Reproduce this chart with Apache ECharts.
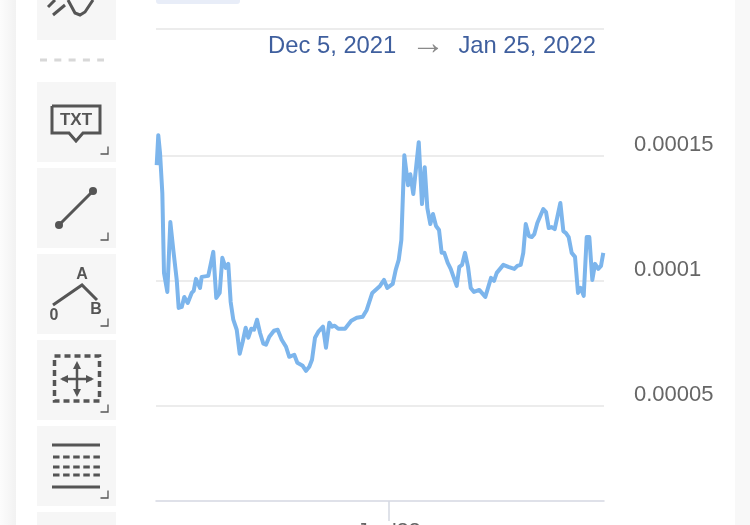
<!DOCTYPE html>
<html>
<head>
<meta charset="utf-8">
<style>html,body{margin:0;padding:0;background:#fff;overflow:hidden}#c{width:750px;height:525px}</style>
<script src="https://cdn.jsdelivr.net/npm/echarts@6/dist/echarts.min.js"></script>
</head>
<body>
<div id="c"></div>
<script>
const rangeText = ['Dec 5, 2021', '\u2192', 'Jan 25, 2022'];
const yTicks = [0.00005, 0.0001, 0.00015];
const yGridValues = [0.00005, 0.0001, 0.00015, 0.0002006];
const yLabels = ['0.00005', '0.0001', '0.00015'];
const xTickLabel = "Jan'22";
const startDay = Date.UTC(2021, 11, 5);
const dayMs = 86400000;
const daysSinceDec5 = [0.58,0.76,0.96,1.22,1.41,1.79,2.13,2.47,2.86,3.08,3.43,3.72,4.11,4.56,4.79,5.05,5.51,5.70,6.45,7.02,7.36,7.75,8.05,8.43,8.73,9.00,9.30,9.69,10.03,10.37,10.71,11.01,11.35,11.66,12.00,12.34,12.72,13.02,13.40,13.93,14.35,14.81,15.30,15.67,16.24,16.59,17.20,17.58,17.95,18.26,18.60,18.98,19.51,19.85,20.23,20.54,20.84,21.25,22.02,22.73,23.35,24.03,24.49,25.12,26.00,26.46,26.83,27.45,27.79,28.13,28.43,28.77,29.19,29.45,29.79,30.41,30.78,31.09,31.39,31.73,32.03,32.38,32.72,33.02,33.32,33.71,34.05,34.73,35.03,35.34,35.68,36.02,36.33,36.70,37.30,37.99,38.64,38.98,39.29,40.04,40.61,41.29,41.63,42.02,42.31,42.59,42.96,43.27,43.57,43.91,44.59,44.90,45.21,45.55,45.89,46.53,46.87,47.17,47.48,47.82,48.20,48.54,48.85,49.19,49.53,49.83,50.17,50.48,50.85,51.16,51.42];
const prices = [0.0001462,0.0001582,0.000151,0.0001351,0.0001032,0.0000956,0.0001235,0.0001124,0.0001004,0.0000892,0.0000896,0.0000936,0.0000912,0.0000952,0.000096,0.0001008,0.0000972,0.0001016,0.000102,0.0001116,0.0000932,0.0000952,0.0001092,0.0001052,0.0001068,0.0000916,0.0000845,0.0000805,0.0000709,0.0000757,0.0000813,0.0000773,0.0000809,0.0000805,0.0000845,0.0000793,0.0000749,0.0000745,0.0000777,0.0000801,0.0000805,0.0000765,0.0000737,0.0000697,0.0000705,0.0000673,0.0000661,0.0000641,0.0000657,0.0000685,0.0000773,0.0000797,0.0000817,0.0000733,0.0000833,0.0000817,0.0000821,0.0000809,0.0000809,0.0000841,0.0000853,0.0000857,0.0000884,0.0000952,0.000098,0.0001004,0.0000972,0.0000988,0.0001044,0.0001084,0.0001163,0.0001502,0.0001382,0.0001426,0.0001347,0.0001554,0.0001307,0.0001454,0.0001291,0.0001227,0.0001267,0.0001219,0.0001203,0.0001112,0.0001112,0.0001072,0.0001048,0.000098,0.0001056,0.0001064,0.0001112,0.0001056,0.0000972,0.0000956,0.0000964,0.0000936,0.0001012,0.0001,0.0001032,0.0001064,0.0001056,0.0001048,0.000106,0.0001064,0.0001112,0.0001227,0.0001179,0.0001175,0.0001187,0.0001231,0.0001287,0.0001275,0.0001211,0.0001215,0.0001207,0.0001311,0.0001199,0.0001191,0.0001175,0.0001112,0.0001096,0.0000952,0.0000972,0.000094,0.0001175,0.0001175,0.0001004,0.0001068,0.0001048,0.000106,0.0001112];
const series = daysSinceDec5.map((d, i) => [startDay + d * dayMs, prices[i]]);

const box = (x, y, h) => ({type:'rect', shape:{x:x, y:y, width:79, height:h}, style:{fill:'#f6f6f6'}, silent:true});
const ink = '#555';
const seg = (pts, w, dash) => ({type:'polyline', shape:{points:pts}, style:{stroke:ink, lineWidth:w||2, fill:null, lineDash:dash||null}, silent:true});
const corner = (x, y) => ({type:'polyline', shape:{points:[[x-7.5,y],[x,y],[x,y-7.5]]}, style:{stroke:'#555', lineWidth:1.3, fill:null}, silent:true});
const lbl = (t, x, y, s) => ({type:'text', x:x, y:y, style:{text:t, fill:ink, font:'bold '+s+'px "Liberation Sans"', align:'center', verticalAlign:'middle'}, silent:true});

const graphics = [
  {type:'rect', shape:{x:0,y:0,width:16,height:525}, style:{fill:{type:'linear',x:0,y:0,x2:1,y2:0,colorStops:[{offset:0,color:'#fcfcfc'},{offset:1,color:'#f2f2f2'}]}}, silent:true},
  {type:'rect', shape:{x:735,y:0,width:15,height:525}, style:{fill:'#f8f8f8'}, silent:true},
  box(37,-40,80), box(37,82,80), box(37,168,80), box(37,254,80), box(37,340,80), box(37,426,80), box(37,512,40),
  seg([[48,7],[55,0]],3), seg([[53,15],[65,5]],3), seg([[68,0],[75,13],[80,15],[85,12],[93,0]],3),
  {type:'line', shape:{x1:40,y1:60,x2:104,y2:60}, style:{stroke:'#d8d8d8',lineWidth:3,lineDash:[7,7.3]}, silent:true},
  seg([[52,106],[100,106],[100,133],[83,133],[76,141],[69,133],[52,133],[52,106]],3),
  lbl('TXT',76,120,17),
  seg([[59,225],[93,191]],3),
  {type:'circle', shape:{cx:59,cy:225,r:4}, style:{fill:ink}, silent:true},
  {type:'circle', shape:{cx:93,cy:191,r:4}, style:{fill:ink}, silent:true},
  lbl('A',82,275,16), lbl('0',54,316,16), lbl('B',96,310,16),
  seg([[53,305],[82,285],[97,300]],3),
  {type:'rect', shape:{x:54.5,y:356,width:45,height:45}, style:{stroke:ink,lineWidth:3.5,lineDash:[6,4],fill:null}, silent:true},
  seg([[77,364],[77,394]],2.5), seg([[62,379],[92,379]],2.5),
  {type:'polygon', shape:{points:[[77,361],[73,369],[81,369]]}, style:{fill:ink}, silent:true},
  {type:'polygon', shape:{points:[[77,397],[73,389],[81,389]]}, style:{fill:ink}, silent:true},
  {type:'polygon', shape:{points:[[60,379],[68,375],[68,383]]}, style:{fill:ink}, silent:true},
  {type:'polygon', shape:{points:[[94,379],[86,375],[86,383]]}, style:{fill:ink}, silent:true},
  seg([[52,445],[100,445]],3), seg([[52,487],[100,487]],3),
  seg([[53,457],[100,457]],3,[6.5,3.6]), seg([[53,467],[100,467]],3,[6.5,3.6]), seg([[53,475],[100,475]],3,[6.5,3.6]),
  corner(108,154), corner(108,240), corner(108,326), corner(108,412), corner(108,498),
  {type:'rect', shape:{x:156,y:-6,width:84,height:10,r:3}, style:{fill:'#e8edf8'}, silent:true},
  {type:'text', x:268, y:46, style:{text:rangeText[0], fill:'#3f5f9e', font:'23.8px "Liberation Sans"', verticalAlign:'middle'}, silent:true},
  {type:'text', x:428, y:45, style:{text:rangeText[1], fill:'#8a8a8a', font:'34px "Liberation Sans"', align:'center', verticalAlign:'middle'}, silent:true},
  {type:'text', x:596, y:46, style:{text:rangeText[2], fill:'#3f5f9e', font:'23.8px "Liberation Sans"', align:'right', verticalAlign:'middle'}, silent:true}
];

const chart = echarts.init(document.getElementById('c'), null, {renderer:'canvas'});
chart.setOption({
  animation:false,
  backgroundColor:'#fff',
  grid:{left:156, right:146, top:29, bottom:24, outerBoundsMode:'none', containLabel:false},
  xAxis:{
    type:'value',
    min:startDay + 0.5*dayMs,
    max:startDay + 51.5*dayMs,
    axisLine:{show:true, lineStyle:{color:'#d5d8e2', width:1.5}},
    axisTick:{show:true, length:20, lineStyle:{color:'#d5d8e2', width:1.5}, customValues:[Date.UTC(2022,0,1)]},
    axisLabel:{show:true, customValues:[Date.UTC(2022,0,1)], formatter:()=>xTickLabel, color:'#666', fontSize:22, fontFamily:'Liberation Sans', margin:20, verticalAlign:'top', showMinLabel:true, showMaxLabel:true},
    splitLine:{show:false}
  },
  yAxis:{
    type:'value',
    min:0.0000121,
    max:0.0002006,
    position:'right',
    axisLine:{show:false},
    axisTick:{show:false, customValues:yGridValues},
    axisLabel:{show:true, customValues:yTicks, formatter:v=>yLabels[yTicks.findIndex(t=>Math.abs(t-v)<1e-9)]||'', color:'#666', fontSize:22, fontFamily:'Liberation Sans', margin:30, verticalAlign:'bottom', lineHeight:22},
    splitLine:{show:true, lineStyle:{color:'#e6e6e6', width:1.5}, customValues:yGridValues}
  },
  series:[{type:'line', data:series, showSymbol:false, symbol:'none', smooth:false, clip:false, lineStyle:{color:'#7cb5ec', width:4, join:'round'}}],
  graphic:{elements:graphics}
});
</script>
</body>
</html>
